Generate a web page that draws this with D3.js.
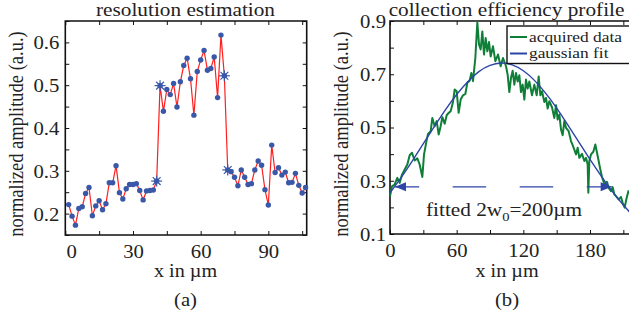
<!DOCTYPE html>
<html>
<head>
<meta charset="utf-8">
<script src="https://cdn.jsdelivr.net/npm/d3@7"></script>
<style>
  body { margin: 0; background: #fff; }
  svg { display: block; }
  text { font-family: "Liberation Serif", "Times New Roman", serif; fill: #222; }
</style>
</head>
<body>
<svg id="chart" width="629" height="321"></svg>
<script>
// ---- panel (a): resolution estimation ----
var resX = [1.5, 3, 4.5, 6, 7.5, 9, 10.5, 12, 13.5, 15, 16.5, 18, 19.5, 21, 22.5, 24, 25.5, 27,
  28.5, 30, 31.5, 33, 34.5, 36, 37.5, 39, 40.5, 42, 43.5, 45, 46.5, 48, 49.5, 51, 52.5, 54,
  55.5, 57, 58.5, 60, 61.5, 63, 64.5, 66, 67.5, 69, 70.5, 72, 73.5, 75, 76.5, 78, 79.5, 81,
  82.5, 84, 85.5, 87, 88.5, 90, 91.5, 93, 94.5, 96, 97.5, 99, 100.5, 102, 103.5, 105, 106.5];
var resY = [0.221, 0.194, 0.173, 0.212, 0.216, 0.247, 0.261, 0.195, 0.218, 0.230, 0.209, 0.223,
  0.272, 0.272, 0.312, 0.249, 0.234, 0.258, 0.268, 0.268, 0.270, 0.254, 0.232, 0.253, 0.254,
  0.255, 0.276, 0.499, 0.439, 0.490, 0.478, 0.504, 0.449, 0.508, 0.546, 0.563, 0.515, 0.430,
  0.532, 0.559, 0.581, 0.535, 0.539, 0.566, 0.471, 0.617, 0.522, 0.302, 0.298, 0.285, 0.265,
  0.302, 0.285, 0.268, 0.270, 0.302, 0.323, 0.313, 0.256, 0.220, 0.360, 0.296, 0.307, 0.290,
  0.297, 0.272, 0.273, 0.294, 0.266, 0.248, 0.261];
var edgeIdx = [26, 27, 46, 47];   // points marked with asterisks
var resXTicks = [0, 15, 30, 45, 60, 75, 90, 105];
var resXLabels = [0, 30, 60, 90];
var resYTicks = [0.15, 0.2, 0.25, 0.3, 0.35, 0.4, 0.45, 0.5, 0.55, 0.6, 0.65];
var resYLabels = [0.2, 0.3, 0.4, 0.5, 0.6];

// ---- panel (b): collection efficiency profile ----
var profX = [0, 1.8, 4.2, 6.6, 8.7, 10.8, 13.2, 15.6, 17.7, 19.8, 22.2, 24.6, 26.7, 29.1, 30.6,
  32.7, 34.2, 36.6, 38.1, 40.2, 42, 43.8, 45.6, 47.1, 49.2, 51, 52.8, 54.6, 56.7, 58.2, 60,
  61.8, 63.6, 65.7, 67.8, 69.6, 71.7, 73.2, 74.7, 76.8, 78.6, 80.1, 81.6, 83.1, 84.6, 86.1,
  87.6, 89.1, 90.6, 92.7, 94.8, 97.2, 99.6, 101.7, 104.4, 105.9, 107.4, 108.9, 110.4, 111.9,
  113.4, 114.9, 116.4, 117.9, 119.4, 120.9, 122.4, 123.9, 125.4, 127.8, 129.9, 132, 133.8,
  135.3, 136.8, 138.9, 140.4, 141.9, 143.4, 145.8, 147.9, 149.4, 150.9, 152.4, 153.9, 155.4,
  156.9, 158.4, 160.8, 162.9, 164.4, 165.9, 167.4, 168.9, 170.4, 172.8, 174.9, 176.4, 177.9,
  178.5, 179.4, 180.9, 183, 184.8, 186.3, 187.8, 189.3, 190.8, 192.3, 193.8, 195.3, 196.8,
  198.9, 200.4, 201.9, 203.4, 205.8, 207.9, 209.4, 211.2, 213, 214.8];
var profY = [0.242, 0.279, 0.286, 0.311, 0.292, 0.323, 0.342, 0.361, 0.396, 0.405, 0.376, 0.384,
  0.361, 0.314, 0.398, 0.446, 0.476, 0.486, 0.536, 0.505, 0.524, 0.474, 0.505, 0.539, 0.514,
  0.546, 0.555, 0.561, 0.596, 0.643, 0.636, 0.555, 0.605, 0.621, 0.626, 0.668, 0.676, 0.705,
  0.674, 0.761, 0.895, 0.812, 0.793, 0.861, 0.774, 0.836, 0.786, 0.821, 0.767, 0.805, 0.749,
  0.774, 0.730, 0.761, 0.730, 0.698, 0.633, 0.686, 0.713, 0.661, 0.705, 0.673, 0.696, 0.633,
  0.661, 0.605, 0.680, 0.646, 0.673, 0.621, 0.661, 0.621, 0.692, 0.621, 0.636, 0.596, 0.611,
  0.571, 0.599, 0.576, 0.536, 0.584, 0.530, 0.549, 0.493, 0.471, 0.524, 0.499, 0.486, 0.449,
  0.434, 0.417, 0.399, 0.424, 0.386, 0.401, 0.374, 0.386, 0.361, 0.255, 0.374, 0.399, 0.409,
  0.436, 0.405, 0.374, 0.342, 0.314, 0.296, 0.279, 0.296, 0.273, 0.261, 0.276, 0.249, 0.242,
  0.230, 0.239, 0.217, 0.199, 0.236, 0.264];
var fitX = [0, 10, 20, 30, 40, 50, 60, 70, 80, 90, 100, 110, 120, 130, 140, 150, 160, 170, 180,
  190, 200, 210, 216];
var fitY = [0.255, 0.312, 0.374, 0.439, 0.504, 0.567, 0.624, 0.672, 0.710, 0.733, 0.742, 0.735,
  0.713, 0.677, 0.629, 0.573, 0.510, 0.445, 0.380, 0.318, 0.260, 0.209, 0.181];
var widthArrow = [4.5, 199.5];   // x extent of the fitted width arrow
var widthLevel = 0.277;
var profXTicks = [0, 30, 60, 90, 120, 150, 180, 210];
var profXLabels = [0, 60, 120, 180];
var profYTicks = [0.1, 0.2, 0.3, 0.4, 0.5, 0.6, 0.7, 0.8, 0.9];
var profYLabels = [0.1, 0.3, 0.5, 0.7, 0.9];
var legendNames = ['acquired data', 'gaussian fit'];

var SX = 1.12;   // glyphs in the original are slightly stretched horizontally
var RED = '#ff1f1f', DOT = '#3a58a8', GREEN = '#0f7f38', BLUE = '#2c45a6';

var svg = d3.select('#chart');

function label(x, y, str, size, anchor, rotate) {
  var t = svg.append('text')
    .attr('transform', rotate
      ? `translate(${x},${y}) rotate(-90) scale(1,${SX})`
      : `translate(${x},${y}) scale(${SX},1)`)
    .attr('text-anchor', anchor || 'middle')
    .style('font-size', size + 'px');
  t.text(str);
  return t;
}

// box with inward ticks on all four sides, labels only on some ticks
function frame(x, y, xTicks, xLabels, yTicks, yLabels, fmtY, yPad, zeroShift) {
  var g = svg.append('g');
  var x0 = x.range()[0], x1 = x.range()[1], y0 = y.range()[0], y1 = y.range()[1];
  var fmtX = d3.format('d');

  var bottom = g.append('g').attr('transform', `translate(0,${y0})`)
    .call(d3.axisBottom(x).tickValues(xTicks).tickSize(-4)
      .tickFormat(d => xLabels.indexOf(d) > -1 ? fmtX(d) : ''));
  g.append('g').attr('transform', `translate(0,${y1})`)
    .call(d3.axisTop(x).tickValues(xTicks).tickSize(-4).tickFormat(''));
  var left = g.append('g').attr('transform', `translate(${x0},0)`)
    .call(d3.axisLeft(y).tickValues(yTicks).tickSize(-4)
      .tickFormat(d => yLabels.some(v => Math.abs(v - d) < 1e-9) ? fmtY(d) : ''));
  g.append('g').attr('transform', `translate(${x1},0)`)
    .call(d3.axisRight(y).tickValues(yTicks).tickSize(-4).tickFormat(''));

  g.selectAll('.domain').remove();
  g.selectAll('text').filter(function () { return !this.textContent; }).remove();
  g.selectAll('.tick line').attr('stroke', '#111').attr('stroke-width', 1);
  g.selectAll('text').style('font-size', '18.5px').attr('fill', '#222')
    .style('font-family', '"Liberation Serif", "Times New Roman", serif');
  bottom.selectAll('text').attr('y', 0).attr('dy', 0)
    .attr('transform', d => `translate(${d === 0 ? zeroShift : 0},22.5) scale(${SX},1)`);
  left.selectAll('text').attr('x', 0).attr('dy', '0.35em')
    .attr('transform', `translate(${-yPad},0) scale(${SX},1)`);

  g.append('path')
    .attr('d', `M${x0},${y1}H${x1}V${y0}H${x0}Z`)
    .attr('fill', 'none').attr('stroke', '#111').attr('stroke-width', 1.6);
  return g;
}

// ===== panel (a) =====
var xa = d3.scaleLinear().domain([0, 107]).range([65.3, 306.7]);
var ya = d3.scaleLinear().domain([0.15, 0.65]).range([235, 21]);
frame(xa, ya, resXTicks, resXLabels, resYTicks, resYLabels, d3.format('.1f'), 6, 6);

var resPts = resX.map((d, i) => [d, resY[i]]);
svg.append('path').datum(resPts)
  .attr('d', d3.line().x(d => xa(d[0])).y(d => ya(d[1])))
  .attr('fill', 'none').attr('stroke', RED).attr('stroke-width', 1.2);
svg.append('g').selectAll('circle').data(resPts).join('circle')
  .attr('cx', d => xa(d[0])).attr('cy', d => ya(d[1])).attr('r', 2.7).attr('fill', DOT);
var star = svg.append('g').selectAll('g').data(edgeIdx.map(i => resPts[i])).join('g')
  .attr('transform', d => `translate(${xa(d[0])},${ya(d[1])})`);
[0, 45, 90, 135].forEach(a => {
  star.append('line').attr('x1', -5.5).attr('x2', 5.5)
    .attr('transform', `rotate(${a})`).attr('stroke', DOT).attr('stroke-width', 1.2);
});

label(185.5, 15.5, 'resolution estimation', 19);
label(185.5, 276.5, 'x in \u00b5m', 18);
label(185.5, 306, '(a)', 18.5);
label(23, 134, 'normalized amplitude (a.u.)', 18.5, 'middle', true);

// ===== panel (b) =====
var xb = d3.scaleLinear().domain([0, 225]).range([390, 640]);
var yb = d3.scaleLinear().domain([0.1, 0.9]).range([234, 21]);
frame(xb, yb, profXTicks, profXLabels, profYTicks, profYLabels, d3.format('.1f'), 4, 0);

var line = d3.line().x(d => xb(d[0])).y(d => yb(d[1]));
svg.append('path').datum(profX.map((d, i) => [d, profY[i]]))
  .attr('d', line).attr('fill', 'none').attr('stroke', GREEN).attr('stroke-width', 2)
  .attr('stroke-linejoin', 'round');
svg.append('path').datum(fitX.map((d, i) => [d, fitY[i]]))
  .attr('d', d3.line().x(d => xb(d[0])).y(d => yb(d[1])).curve(d3.curveNatural))
  .attr('fill', 'none').attr('stroke', BLUE).attr('stroke-width', 1.4);

// fitted width arrow
var ax0 = xb(widthArrow[0]), ax1 = xb(widthArrow[1]), ay = yb(widthLevel);
svg.append('line').attr('x1', ax0).attr('x2', ax1).attr('y1', ay).attr('y2', ay)
  .attr('stroke', BLUE).attr('stroke-width', 1.2)
  .attr('stroke-dasharray', '33.5,33.5').attr('stroke-dashoffset', 9.3);
svg.append('path').attr('fill', BLUE)
  .attr('d', `M${ax0},${ay}l11,-4.5v9Z M${ax1},${ay}l-11,-4.5v9Z`);

var ann = label(426, 216, 'fitted 2w', 19, 'start');
ann.append('tspan').attr('dy', 5).style('font-size', '13px').text('0');
ann.append('tspan').attr('dy', -5).text('=200\u00b5m');

// legend
var lg = svg.append('g').attr('transform', 'translate(507,26)');
lg.append('rect').attr('width', 140).attr('height', 37.5)
  .attr('fill', '#fff').attr('stroke', '#111').attr('stroke-width', 1.4);
lg.selectAll('line').data(legendNames).join('line')
  .attr('x1', 3).attr('x2', 20).attr('y1', (d, i) => 11 + i * 16.5).attr('y2', (d, i) => 11 + i * 16.5)
  .attr('stroke', (d, i) => i ? BLUE : GREEN).attr('stroke-width', 2);
legendNames.forEach((n, i) => label(529, 41.5 + i * 16.5, n, 15.5, 'start'));

label(506.5, 15.5, 'collection efficiency profile', 19);
label(507, 276.5, 'x in \u00b5m', 18);
label(507, 306, '(b)', 18.5);
label(348, 134, 'normalized amplitude (a.u.)', 18.5, 'middle', true);
</script>
</body>
</html>
